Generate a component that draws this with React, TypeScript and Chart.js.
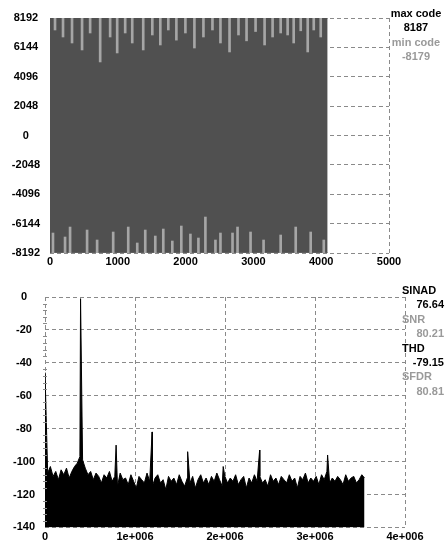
import React, { useEffect, useRef } from "react";
import { Chart, registerables } from "chart.js";
Chart.register(...registerables);

// ---------- data: time-domain capture ----------
const sampleCount = 4096;
const maxCode = 8187;
const minCode = -8179;
const timeXTicks = [0, 1000, 2000, 3000, 4000, 5000];
const codeTicks = [-8192, -6144, -4096, -2048, 0, 2048, 4096, 6144, 8192];
const topDipSamples = [74, 192, 325, 473, 592, 740, 887, 991, 1109, 1213, 1375, 1509, 1627, 1745, 1864, 1997, 2130, 2263, 2396, 2514, 2648, 2780, 2899, 3032, 3165, 3283, 3402, 3505, 3594, 3698, 3801, 3890, 3993];
const topDipCodes = [7356, 6868, 6450, 5963, 7147, 5127, 6868, 5754, 7147, 6450, 5963, 7008, 6311, 7356, 6650, 7147, 6100, 6868, 7356, 6450, 5824, 7008, 6600, 7250, 6311, 6868, 7147, 7008, 6450, 7300, 5824, 7356, 6868];
const bottomDipSamples = [44, 222, 296, 547, 695, 932, 1154, 1287, 1405, 1553, 1671, 1804, 1937, 2071, 2189, 2292, 2440, 2514, 2692, 2766, 2958, 3150, 3402, 3624, 3845, 4038];
const bottomDipCodes = [-6799, -7077, -6381, -6590, -7286, -6729, -6381, -7495, -6590, -7008, -6520, -7356, -6311, -6868, -7147, -5684, -7286, -6799, -6799, -6381, -6729, -7286, -6938, -6381, -6729, -7286];

// ---------- data: FFT ----------
const nyquistHz = 3.55e6;
const freqTicks = [0, 1e6, 2e6, 3e6, 4e6];
const freqTickLabels = ["0", "1e+006", "2e+006", "3e+006", "4e+006"];
const dbTicks = [-140, -120, -100, -80, -60, -40, -20, 0];
const noiseFloorDb = [
  -104, -107, -103, -109, -106, -111, -105, -108, -104, -110,
  -106, -103, -101, -97, -99, -104, -108, -106, -111, -107,
  -109, -113, -108, -110, -106, -112, -109, -115, -107, -111,
  -110, -114, -108, -112, -116, -109, -111, -113, -107, -112,
  -115, -110, -108, -113, -111, -117, -109, -112, -110, -114,
  -108, -112, -115, -110, -113, -109, -116, -111, -108, -113,
  -110, -114, -109, -112, -107, -111, -115, -109, -113, -110,
  -112, -108, -114, -111, -109, -116, -110, -113, -108, -112,
  -109, -113, -111, -115, -108, -112, -110, -114, -109, -111,
  -113, -108, -112, -110, -116, -109, -111, -107, -113, -110,
  -112, -109, -114, -108, -111, -106, -113, -110, -112, -109,
  -111, -114, -108, -112, -110, -109, -113, -111, -108, -110,
];
const toneFreqs = [0, 0.395e6, 0.79e6, 1.19e6, 1.585e6, 1.98e6, 2.385e6, 3.14e6];
const toneDb = [-46, -1, -90, -82, -94, -103, -93, -96];

// ---------- stats text ----------
const codeStatLabels = ["max code", "min code"];
const codeStatValues = ["8187", "-8179"];
const fftStatLabels = ["SINAD", "SNR", "THD", "SFDR"];
const fftStatValues = ["76.64", "80.21", "-79.15", "80.81"];

const FONT = "'Liberation Sans', Arial, sans-serif";
const GRID = "#8a8a8a";
const DASH = [4, 3];

function TimeChart() {
  const ref = useRef<HTMLCanvasElement>(null);
  useEffect(() => {
    const topDips = topDipSamples.map((x, i) => ({ x, y: [topDipCodes[i], 8192] }));
    const botDips = bottomDipSamples.map((x, i) => ({ x, y: [-8192, bottomDipCodes[i]] }));
    const chart = new Chart(ref.current!, {
      type: "line",
      data: {
        datasets: [
          {
            data: [{ x: 0, y: maxCode }, { x: sampleCount - 1, y: maxCode }],
            borderColor: "#505050",
            backgroundColor: "#505050",
            borderWidth: 1,
            pointRadius: 0,
            fill: "+1",
            order: 2,
          } as any,
          {
            data: [{ x: 0, y: minCode }, { x: sampleCount - 1, y: minCode }],
            borderColor: "#505050",
            borderWidth: 1,
            pointRadius: 0,
            fill: false,
            order: 3,
          } as any,
          {
            type: "bar",
            data: topDips,
            backgroundColor: "#a6a6a6",
            barThickness: 2,
            grouped: false,
            order: 0,
          } as any,
          {
            type: "bar",
            data: botDips,
            backgroundColor: "#a6a6a6",
            barThickness: 2,
            grouped: false,
            order: 0,
          } as any,
        ],
      },
      options: {
        responsive: false,
        animation: false,
        events: [],
        layout: { padding: { left: 0, right: 57, top: 18, bottom: 0 } },
        plugins: { legend: { display: false }, tooltip: { enabled: false } },
        scales: {
          x: {
            type: "linear",
            min: 0,
            max: 5000,
            offset: false,
            afterBuildTicks: (s: any) => { s.ticks = timeXTicks.map((v) => ({ value: v })); },
            afterFit: (s: any) => { s.height = 19; },
            grid: { color: GRID, drawTicks: false, offset: false },
            border: { display: false, dash: DASH },
            ticks: { padding: 2, color: "#000", font: { family: FONT, size: 11, weight: "bold" }, maxRotation: 0, callback: (v: any) => String(v) },
          },
          y: {
            type: "linear",
            min: -8192,
            max: 8192,
            afterBuildTicks: (s: any) => { s.ticks = codeTicks.map((v) => ({ value: v })); },
            afterFit: (s: any) => { s.width = 50; },
            grid: { color: GRID, drawTicks: false },
            border: { display: false, dash: DASH },
            ticks: { padding: 10, crossAlign: "center", color: "#000", font: { family: FONT, size: 11, weight: "bold" }, callback: (v: any) => String(v) },
          },
        },
      } as any,
    });
    return () => chart.destroy();
  }, []);
  return <canvas ref={ref} width={446} height={272} style={{ display: "block" }} />;
}

const minorTicks = {
  id: "minorTicks",
  afterDraw(chart: any) {
    const y = chart.scales.y;
    const ctx = chart.ctx;
    ctx.save();
    ctx.strokeStyle = GRID;
    ctx.lineWidth = 1;
    for (let v = 0; v >= -140; v -= 4) {
      if (v % 20 === 0) continue;
      const py = Math.round(y.getPixelForValue(v)) + 0.5;
      ctx.beginPath();
      ctx.moveTo(chart.chartArea.left - 2, py);
      ctx.lineTo(chart.chartArea.left + 2, py);
      ctx.stroke();
    }
    ctx.restore();
  },
};

function FftChart() {
  const ref = useRef<HTMLCanvasElement>(null);
  useEffect(() => {
    const pts: { x: number; y: number }[] = noiseFloorDb.map((y, i) => ({
      x: (i * nyquistHz) / (noiseFloorDb.length - 1),
      y,
    }));
    toneFreqs.forEach((f, i) => pts.push({ x: f, y: toneDb[i] }));
    pts.sort((a, b) => a.x - b.x);
    const chart = new Chart(ref.current!, {
      type: "line",
      data: {
        datasets: [
          {
            data: pts,
            borderColor: "#000",
            backgroundColor: "#000",
            borderWidth: 1,
            pointRadius: 0,
            fill: "start",
          } as any,
        ],
      },
      options: {
        responsive: false,
        animation: false,
        events: [],
        layout: { padding: { left: 0, right: 41, top: 25, bottom: 0 } },
        plugins: { legend: { display: false }, tooltip: { enabled: false } },
        scales: {
          x: {
            type: "linear",
            min: 0,
            max: 4e6,
            afterBuildTicks: (s: any) => { s.ticks = freqTicks.map((v) => ({ value: v })); },
            afterFit: (s: any) => { s.height = 14; },
            grid: { color: GRID, drawTicks: false },
            border: { display: false, dash: DASH },
            ticks: {
              padding: 3,
              color: "#000",
              maxRotation: 0,
              font: { family: FONT, size: 11, weight: "bold" },
              callback: (v: any) => freqTickLabels[freqTicks.indexOf(v)] ?? "",
            },
          },
          y: {
            type: "linear",
            min: -140,
            max: 0,
            afterBuildTicks: (s: any) => { s.ticks = dbTicks.map((v) => ({ value: v })); },
            afterFit: (s: any) => { s.width = 45; },
            grid: { color: GRID, drawTicks: false },
            border: { display: false, dash: DASH },
            ticks: { padding: 10, crossAlign: "center", color: "#000", font: { family: FONT, size: 11, weight: "bold" }, callback: (v: any) => String(v) },
          },
        },
      } as any,
      plugins: [minorTicks],
    });
    return () => chart.destroy();
  }, []);
  return <canvas ref={ref} width={446} height={272} style={{ display: "block" }} />;
}

const textBase: React.CSSProperties = {
  fontFamily: FONT,
  fontWeight: "bold",
  fontSize: 11,
  lineHeight: "14.4px",
  whiteSpace: "nowrap",
};

export default function App() {
  return (
    <div style={{ position: "absolute", left: 0, top: 0, width: 446, height: 544, background: "#fff", overflow: "hidden" }}>
      <div style={{ position: "absolute", left: 0, top: 0 }}>
        <TimeChart />
      </div>
      <div style={{ position: "absolute", left: 0, top: 272 }}>
        <FftChart />
      </div>
      <div style={{ ...textBase, position: "absolute", left: 386, top: 6, width: 60, textAlign: "center" }}>
        {codeStatLabels.map((l, i) => (
          <React.Fragment key={l}>
            <div style={{ color: i % 2 ? "#9a9a9a" : "#000" }}>{l}</div>
            <div style={{ color: i % 2 ? "#9a9a9a" : "#000" }}>{codeStatValues[i]}</div>
          </React.Fragment>
        ))}
      </div>
      <div style={{ ...textBase, position: "absolute", left: 402, top: 283, width: 42 }}>
        {fftStatLabels.map((l, i) => (
          <React.Fragment key={l}>
            <div style={{ color: i % 2 ? "#9a9a9a" : "#000", textAlign: "left" }}>{l}</div>
            <div style={{ color: i % 2 ? "#9a9a9a" : "#000", textAlign: "right" }}>{fftStatValues[i]}</div>
          </React.Fragment>
        ))}
      </div>
    </div>
  );
}
